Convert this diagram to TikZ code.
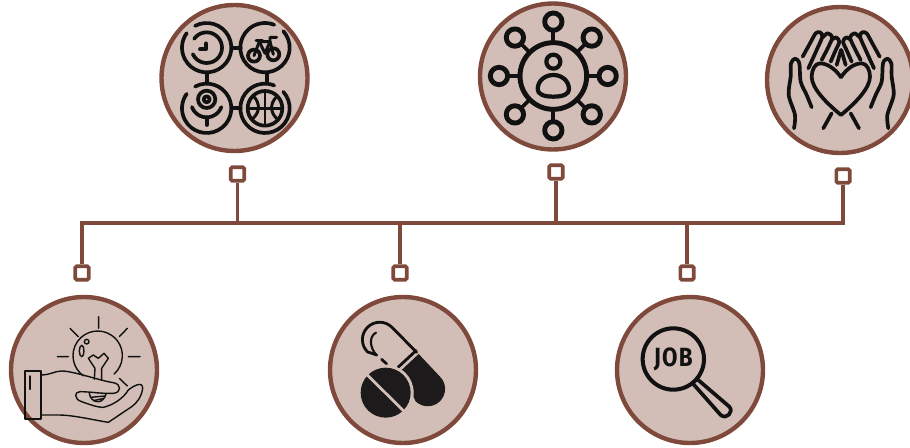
\documentclass[tikz,border=0pt]{standalone}
\usepackage{fontspec}
\newfontfamily\jobfont[LetterSpace=5]{Fira Sans}
\usetikzlibrary{positioning}

\definecolor{rim}{HTML}{7F4A3B}
\definecolor{disc}{HTML}{D2BEB7}
\definecolor{ink}{HTML}{111111}
\definecolor{pillink}{HTML}{1C1A1A}

\tikzset{
        badge/.style={circle, draw=rim, fill=disc, line width=2.5pt, minimum size=2.92cm, inner sep=0pt},
        port/.style={rectangle, draw=rim, fill=white, line width=2pt, rounded corners=0.8pt, minimum size=0.27cm, inner sep=0pt},
        wire/.style={draw=rim, line width=2.1pt},
        crop/.style 2 args={shift={(#1,447-#2)}, xscale=1/3, yscale=-1/3},
        icon/.style={draw=ink, line width=2.1pt, line cap=round, line join=round},
        thinicon/.style={draw=ink, line width=0.8pt, line cap=round, line join=round},
}

% one side of the pair of hands
\newcommand{\handside}{
        plot [smooth] coordinates {(102,385) (105,345) (86,285) (92,230) (93,190) (105,176) (118,190) (122,245) (140,285) (155,322)}
        plot [smooth] coordinates {(128,170) (150,130) (167,100) (180,97) (187,110) (170,150) (145,205)}
        plot [smooth] coordinates {(188,112) (203,100) (217,112) (203,145) (185,180)}
        plot [smooth] coordinates {(218,118) (228,112) (238,125) (225,155) (212,185)}
        (243,150) -- (230,195)
        (190,385) -- (215,340)
}

\begin{document}
\begin{tikzpicture}[x=0.02cm, y=0.02cm]
        \useasboundingbox (0, 0) rectangle (910, 447);

        \coordinate (busleft) at (80, 224);
        \coordinate (busright) at (845, 224);

        \node [badge] (hobby) at (234.5, 369) {};
        \node [badge] (network) at (553, 370.5) {};
        \node [badge] (care) at (840, 367) {};
        \node [badge] (idea) at (84, 77) {};
        \node [badge] (medicine) at (403, 77) {};
        \node [badge] (search) at (690, 77) {};

        \draw [wire] (busleft) -- (busright);

        \node [port] (hobbyport) at (237.5, 273) {};
        \node [port] (networkport) at (556, 275) {};
        \node [port] (careport) at (843, 271) {};
        \node [port] (ideaport) at (82, 174) {};
        \node [port] (medicineport) at (400, 174) {};
        \node [port] (searchport) at (687, 174) {};

        \foreach \p in {hobbyport, networkport, careport, ideaport, medicineport, searchport}
                \draw [wire] (\p) -- (\p |- busleft);

        % four rings
        \begin{scope}[crop={150}{0}]
                \foreach \cx/\cy/\a in {170/143/242, 170/325/242, 345/143/-42, 345/325/-42}
                        \draw [icon] (\cx, \cy) ++(\a:74) arc [start angle=\a, delta angle=334, radius=74];
                \draw [icon] (245, 143) -- (272, 143) (245, 325) -- (272, 325);
                \draw [icon] (170, 218) -- (170, 250) (350, 218) -- (350, 250);
                \draw [icon] (170, 143) ++(215:46) arc [start angle=215, delta angle=300, radius=46];
                \draw [icon] (168, 130) -- (168, 148) -- (150, 148);
                \draw [icon] (312, 167) circle [radius=18] (370, 163) circle [radius=18];
                \draw [icon, line width=1.7pt] (312, 167) -- (328, 125) -- (360, 125) -- (370, 163);
                \draw [icon, line width=1.7pt] (328, 125) -- (345, 160) -- (360, 125) -- (360, 112) -- (380, 112);
                \draw [icon, line width=1.7pt] (318, 122) -- (338, 122);
                \draw [icon] (170, 298) circle [radius=9] (170, 298) circle [radius=26];
                \draw [icon] (170, 305) ++(160:47) arc [start angle=160, end angle=20, radius=47];
                \draw [icon] (170, 352) -- (170, 375);
                \draw [icon] (345, 325) circle [radius=52];
                \draw [icon, line width=1.7pt] (345, 273) -- (345, 377) (293, 325) -- (397, 325);
                \draw [icon, line width=1.7pt] (310, 288) .. controls (332, 310) and (330, 340) .. (305, 358);
                \draw [icon, line width=1.7pt] (380, 290) .. controls (358, 312) and (360, 340) .. (385, 360);
        \end{scope}

        % person with satellites
        \begin{scope}[crop={470}{0}]
                \draw [icon, line width=2.8pt] (250, 228) circle [radius=100];
                \foreach \a in {0, 45, ..., 315} {
                        \draw [icon, line width=2.8pt] (250, 228) ++(\a:163) circle [radius=26];
                        \draw [icon, line width=2.1pt] (250, 228) ++(\a:100) -- ++(\a:37);
                }
                \draw [icon, line width=2.4pt] (250, 185) circle [radius=21];
                \draw [icon, line width=2.4pt] (203, 268) .. controls (203, 242) and (225, 225) .. (250, 225)
                        .. controls (275, 225) and (297, 242) .. (297, 268)
                        .. controls (297, 282) and (280, 290) .. (250, 290)
                        .. controls (220, 290) and (203, 282) .. cycle;
        \end{scope}

        % heart in hands
        \begin{scope}[crop={760}{0}]
                \draw [icon] (243, 232) .. controls (225, 205) and (200, 190) .. (180, 190)
                        .. controls (165, 190) and (155, 210) .. (155, 230)
                        .. controls (155, 265) and (200, 310) .. (243, 345)
                        .. controls (285, 310) and (330, 265) .. (330, 230)
                        .. controls (330, 210) and (320, 190) .. (305, 190)
                        .. controls (285, 190) and (260, 205) .. cycle;
                \draw [icon] \handside;
                \begin{scope}[shift={(487, 0)}, xscale=-1]
                        \draw [icon] \handside;
                \end{scope}
        \end{scope}

        % bulb over a hand
        \begin{scope}[crop={0}{290}]
                \draw [thinicon, line width=1pt] (74, 243) rectangle (122, 386);
                \draw [thinicon] (90, 258) -- (90, 298);
                \draw [thinicon] (293, 197) ++(125:74) arc [start angle=125, end angle=408, radius=74];
                \draw [thinicon] (283, 268) -- (285, 235) -- (265, 205) -- (280, 195) -- (295, 205)
                        -- (312, 190) -- (325, 205) -- (305, 235) -- (305, 270);
                \draw [thinicon] (245, 183) ellipse [x radius=7, y radius=17];
                \draw [thinicon] (260, 155) circle [radius=7];
                \draw [thinicon] (296, 80) -- (296, 115) (210, 115) -- (235, 140) (382, 115) -- (358, 140);
                \draw [thinicon] (172, 200) -- (205, 200) (385, 200) -- (420, 200) (358, 265) -- (382, 288);
                \draw [thinicon] (122, 255) .. controls (150, 255) and (165, 243) .. (185, 243)
                        .. controls (220, 243) and (300, 272) .. (340, 278)
                        .. controls (365, 282) and (365, 308) .. (340, 310)
                        .. controls (310, 312) and (270, 305) .. (240, 305)
                        .. controls (222, 305) and (222, 328) .. (245, 335)
                        .. controls (265, 342) and (290, 352) .. (310, 352)
                        .. controls (340, 345) and (370, 325) .. (385, 300)
                        .. controls (400, 288) and (428, 272) .. (428, 295)
                        .. controls (425, 320) and (410, 340) .. (395, 350)
                        -- (325, 397) .. controls (280, 390) and (220, 375) .. (175, 375) -- (122, 375);
                \draw [thinicon] (268, 310) .. controls (270, 325) and (280, 335) .. (295, 335)
                        .. controls (305, 335) and (315, 325) .. (318, 312);
                \draw [thinicon] (272, 322) -- (314, 318) (280, 332) -- (308, 326);
        \end{scope}

        % capsule and tablet
        \begin{scope}[crop={320}{290}]
                \fill [pillink] (296, 192) -- (360, 260)
                        arc [start angle=-45, end angle=135, radius=52] -- (245, 240) -- cycle;
                \draw [icon, line width=1.6pt] (290, 187) -- (216, 112)
                        arc [start angle=-45, end angle=-225, radius=52] -- (170, 195);
                \draw [icon, line width=1.6pt] (185, 208) -- (200, 222);
                \draw [icon, line width=1.6pt] (288, 182) -- (234, 232);
                \draw [icon, line width=1.2pt] (168, 128) .. controls (145, 140) and (150, 175) .. (170, 196);
                \fill [disc] (197, 308) circle [radius=84];
                \fill [pillink] (197, 308) circle [radius=75];
                \draw [disc, line width=1.6pt] (140, 253) -- (250, 362);
        \end{scope}

        % magnifier
        \begin{scope}[crop={610}{290}]
                \draw [icon, line width=2.3pt] (190, 207) circle [radius=92];
                \draw [icon, line width=2.1pt] (260, 266) -- (358, 350)
                        .. controls (372, 365) and (350, 390) .. (332, 375) -- (248, 280);
        \end{scope}
        \node [font=\jobfont\bfseries\fontsize{15}{16}\selectfont, text=ink, inner sep=0pt] (jobword) at (673.3, 88) {\scalebox{.85}[1]{JOB}};
\end{tikzpicture}
\end{document}
